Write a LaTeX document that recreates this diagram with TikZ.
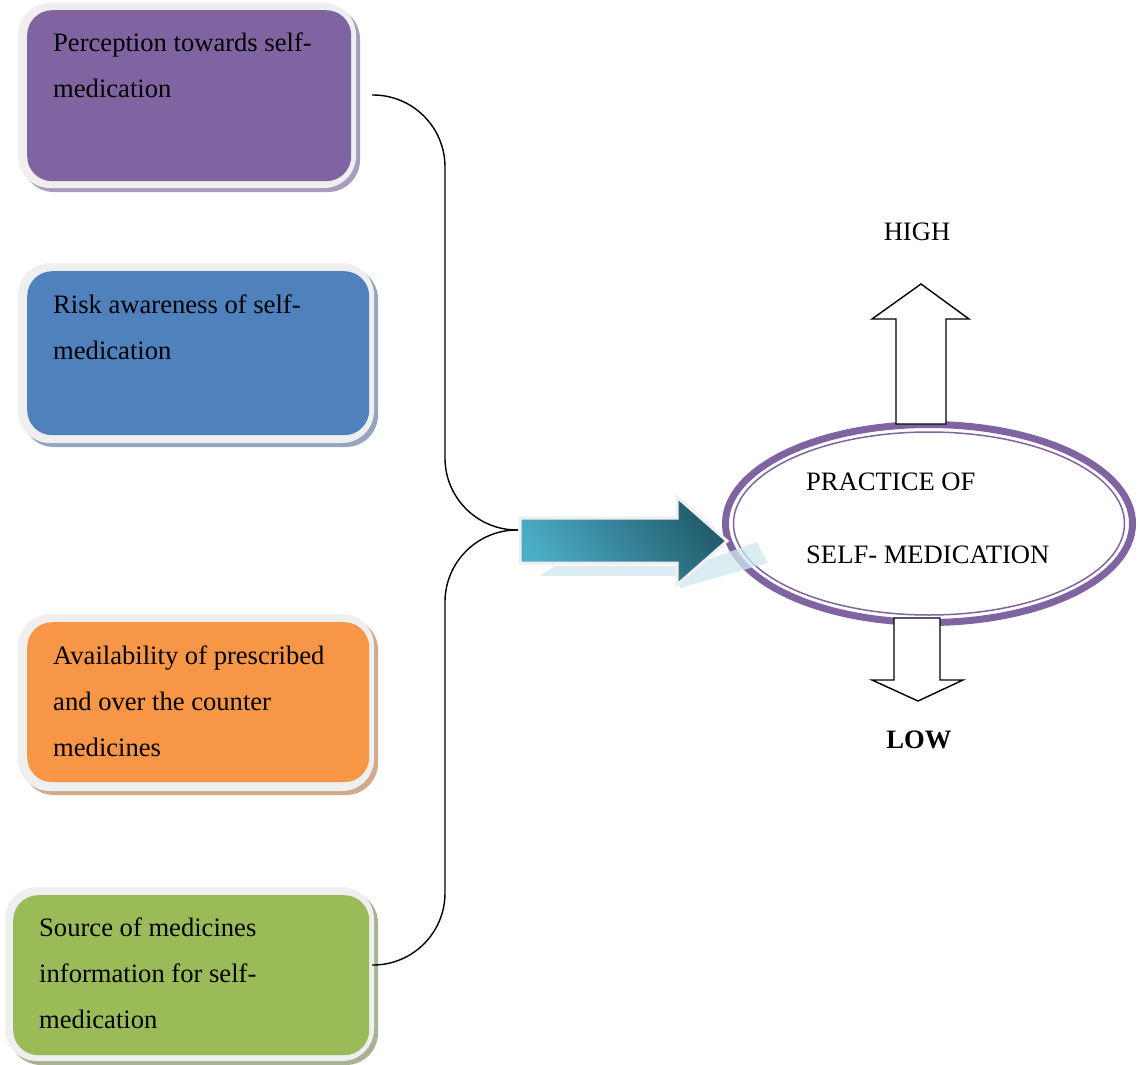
\documentclass[tikz,border=0pt]{standalone}
\usepackage{fontspec}
\setmainfont{Liberation Serif}
\usetikzlibrary{shapes.geometric}
\definecolor{cPur}{HTML}{8064A2}
\definecolor{cBlu}{HTML}{4F81BD}
\definecolor{cOra}{HTML}{F79646}
\definecolor{cGre}{HTML}{9BBB59}
\definecolor{sPur}{HTML}{A99BBB}
\definecolor{sBlu}{HTML}{94A6BE}
\definecolor{sOra}{HTML}{D2A98A}
\definecolor{sGre}{HTML}{A9B394}
\definecolor{frameG}{HTML}{EFEFEF}
\definecolor{arrA}{HTML}{4BADC7}
\definecolor{arrB}{HTML}{215C6B}
\definecolor{refl}{HTML}{CFE8EF}
\tikzset{
  framebox/.style={fill=frameG, rounded corners=32pt},
  shadowbox/.style={rounded corners=32pt},
  innerbox/.style={rectangle, rounded corners=25pt, inner sep=0pt, anchor=north west},
  txt/.style={anchor=base west, inner sep=0pt, font=\fontsize{26.6}{46}\selectfont},
  ctxt/.style={anchor=base west, inner sep=0pt, font=\fontsize{26.6}{73}\selectfont},
  lbl/.style={anchor=base, inner sep=0pt, font=\fontsize{26.6}{30}\selectfont},
  conn/.style={draw=black, line width=1.4pt, rounded corners=72pt},
  blockarrow/.style={draw=black, fill=white, line width=1.4pt, line join=miter},
}
\begin{document}
\begin{tikzpicture}[x=1pt,y=-1pt]
\useasboundingbox (0,0) rectangle (1138,1065);
\fill[white] (0,0) rectangle (1138,1065);

% box 1
\fill[sPur, shadowbox] (22,7) rectangle (360,192);
\fill[framebox] (18,3) rectangle (356,188);
\node[innerbox, fill=cPur, minimum width=324pt, minimum height=171pt] (b1) at (27,10) {};
\node[txt] (t1) at (53,52) {\begin{tabular}[t]{@{}l@{}}Perception towards self-\\medication\end{tabular}};

% box 2
\fill[sBlu, shadowbox] (22,267) rectangle (378,447);
\fill[framebox] (18,263) rectangle (374,443);
\node[innerbox, fill=cBlu, minimum width=342pt, minimum height=164pt] (b2) at (27,271) {};
\node[txt] (t2) at (53,313) {\begin{tabular}[t]{@{}l@{}}Risk awareness of self-\\medication\end{tabular}};

% box 3
\fill[sOra, shadowbox] (22,618) rectangle (378,795);
\fill[framebox] (18,614) rectangle (374,791);
\node[innerbox, fill=cOra, minimum width=342pt, minimum height=160pt] (b3) at (27,622) {};
\node[txt] (t3) at (53,664) {\begin{tabular}[t]{@{}l@{}}Availability of prescribed\\and over the counter\\medicines\end{tabular}};

% box 4
\fill[sGre, shadowbox] (9,891) rectangle (378,1065);
\fill[framebox] (5,887) rectangle (374,1061);
\node[innerbox, fill=cGre, minimum width=356pt, minimum height=160pt] (b4) at (13,895) {};
\node[txt] (t4) at (39,936) {\begin{tabular}[t]{@{}l@{}}Source of medicines\\information for self-\\medication\end{tabular}};

% connectors
\coordinate (c1) at (372,95);
\coordinate (c4) at (372,965);
\coordinate (j) at (518,530);
\draw[conn] (c1) -| (445,530) -- (j);
\draw[conn] (c4) -| (445,530) -- (j);

% ellipse
\node[ellipse, draw=cPur, line width=7pt, fill=white, minimum width=407pt, minimum height=198pt, inner sep=0pt] (pr) at (929,523.5) {};
\draw[cPur, line width=1.5pt] (pr.center) ellipse (195.5pt and 91.5pt);
\node[ctxt] (pt) at (806,490) {\begin{tabular}[t]{@{}l@{}}PRACTICE OF\\SELF- MEDICATION\end{tabular}};

% reflection
\fill[refl, opacity=0.75] (540,576) -- (555,566) -- (690,566) -- (757,542) -- (768,563) -- (680,588) -- (680,576) -- cycle;
% main arrow
\shadedraw[draw=frameG, line width=3pt, line join=miter, left color=arrA, right color=arrB, shading angle=125]
  (520,518) -- (677,518) -- (677,497) -- (727,541) -- (677,585) -- (677,563) -- (520,563) -- cycle;

% up / down arrows
\draw[blockarrow] (921,284) -- (969,319) -- (946,319) -- (946,424) -- (896,424) -- (896,319) -- (872,319) -- cycle;
\draw[blockarrow] (894,618) -- (940,618) -- (940,680) -- (963,680) -- (918,701) -- (872,680) -- (894,680) -- cycle;

\node[lbl] (high) at (917,240) {HIGH};
\node[lbl, font=\fontsize{26.6}{30}\selectfont\bfseries] (low) at (919,748) {LOW};
\end{tikzpicture}
\end{document}
